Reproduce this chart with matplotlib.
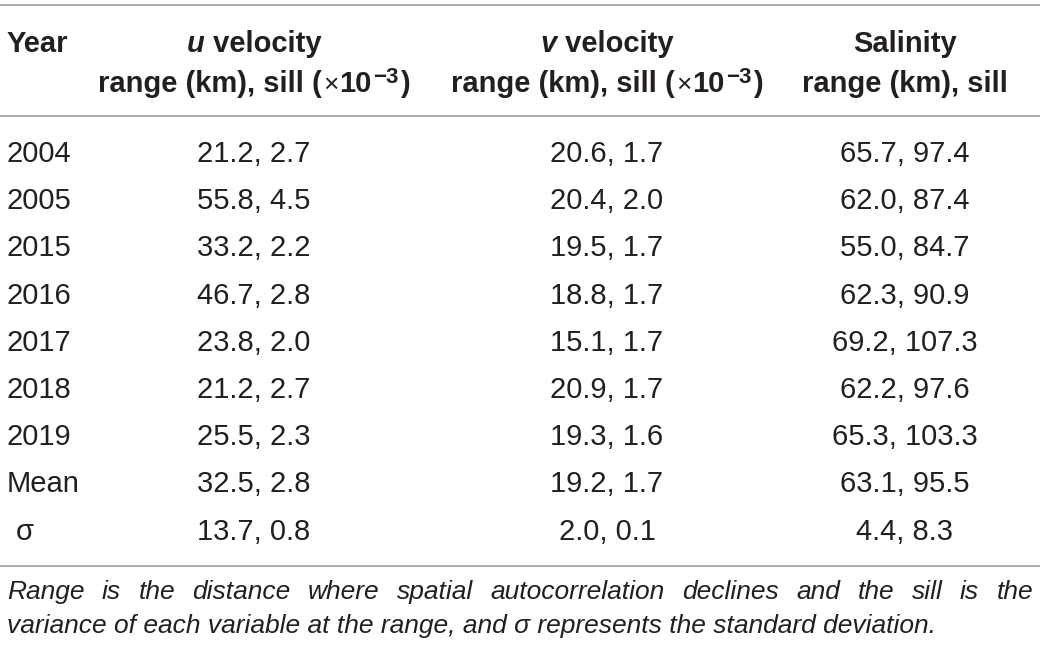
import matplotlib
matplotlib.use("Agg")
import matplotlib.pyplot as plt

plt.rcParams['font.family'] = ['Liberation Sans', 'DejaVu Sans']

# table content
years = ["2004", "2005", "2015", "2016", "2017", "2018", "2019", "Mean", "σ"]
u_range = [21.2, 55.8, 33.2, 46.7, 23.8, 21.2, 25.5, 32.5, 13.7]
u_sill = [2.7, 4.5, 2.2, 2.8, 2.0, 2.7, 2.3, 2.8, 0.8]
v_range = [20.6, 20.4, 19.5, 18.8, 15.1, 20.9, 19.3, 19.2, 2.0]
v_sill = [1.7, 2.0, 1.7, 1.7, 1.7, 1.7, 1.6, 1.7, 0.1]
s_range = [65.7, 62.0, 55.0, 62.3, 69.2, 62.2, 65.3, 63.1, 4.4]
s_sill = [97.4, 87.4, 84.7, 90.9, 107.3, 97.6, 103.3, 95.5, 8.3]

footnote = ("Range is the distance where spatial autocorrelation declines and the sill is the",
            "variance of each variable at the range, and σ represents the standard deviation.")

W, H = 1040, 652
fig = plt.figure(figsize=(W / 100, H / 100), dpi=100)
ax = fig.add_axes([0, 0, 1, 1])
ax.set_xlim(0, W)
ax.set_ylim(H, 0)
ax.axis('off')
renderer = fig.canvas.get_renderer()

ink = '#231f20'
fs = 21
col_x = [254, 607, 905]


def width_of(t):
    return t.get_window_extent(renderer).width


def pieces(x, y, parts):
    """parts: list of (text, style, weight, size, dy, pad); drawn centred on x"""
    arts = []
    for txt, style, weight, size, dy, pad in parts:
        t = ax.text(0, y + dy, txt, fontsize=size, style=style, weight=weight,
                    color=ink, ha='left', va='baseline')
        arts.append((t, pad))
    ws = [width_of(t) + pad for t, pad in arts]
    cur = x - sum(ws) / 2
    for (t, pad), w in zip(arts, ws):
        t.set_x(cur + pad)
        cur += w


# rules
for yy in (5, 116, 566):
    ax.axhline(yy, color='#a6a6a6', lw=1.3)

# header
ax.text(7, 52, "Year", fontsize=fs, weight='bold', color=ink, va='baseline')
sup = [("range (km), sill (", 'normal', 'bold', fs, 0, 0),
       ("×", 'normal', 'normal', fs - 2, 0, 1),
       ("10", 'normal', 'bold', fs, 0, 1),
       ("−3", 'normal', 'bold', fs - 5, -9, 1),
       (")", 'normal', 'bold', fs, 0, 2)]
pieces(col_x[0], 52, [("u", 'italic', 'bold', fs, 0, 0), (" velocity", 'normal', 'bold', fs, 0, 0)])
pieces(col_x[0], 92, sup)
pieces(col_x[1], 52, [("v", 'italic', 'bold', fs, 0, 0), (" velocity", 'normal', 'bold', fs, 0, 0)])
pieces(col_x[1], 92, sup)
ax.text(col_x[2], 52, "Salinity", fontsize=fs, weight='bold', color=ink, ha='center', va='baseline')
ax.text(col_x[2], 92, "range (km), sill", fontsize=fs, weight='bold', color=ink, ha='center', va='baseline')

# body
for i, yr in enumerate(years):
    yb = 162 + i * 47.2
    ax.text(16 if yr == "σ" else 7, yb, yr, fontsize=fs, color=ink, va='baseline')
    for cx, a, b in zip(col_x, (u_range, v_range, s_range), (u_sill, v_sill, s_sill)):
        ax.text(cx, yb, f"{a[i]:.1f}, {b[i]:.1f}", fontsize=fs, color=ink,
                ha='center', va='baseline')

# footnote, first line justified
ffs = 19
left, right = 7, 1033
words = footnote[0].split()
wts = [ax.text(0, 599, w, fontsize=ffs, style='italic', color=ink, va='baseline') for w in words]
ws = [width_of(t) for t in wts]
gap = (right - left - sum(ws)) / (len(words) - 1)
cur = left
for t, w in zip(wts, ws):
    t.set_x(cur)
    cur += w + gap
ax.text(left, 633, footnote[1], fontsize=ffs, style='italic', color=ink, va='baseline')

fig.savefig("out.png", dpi=100)
